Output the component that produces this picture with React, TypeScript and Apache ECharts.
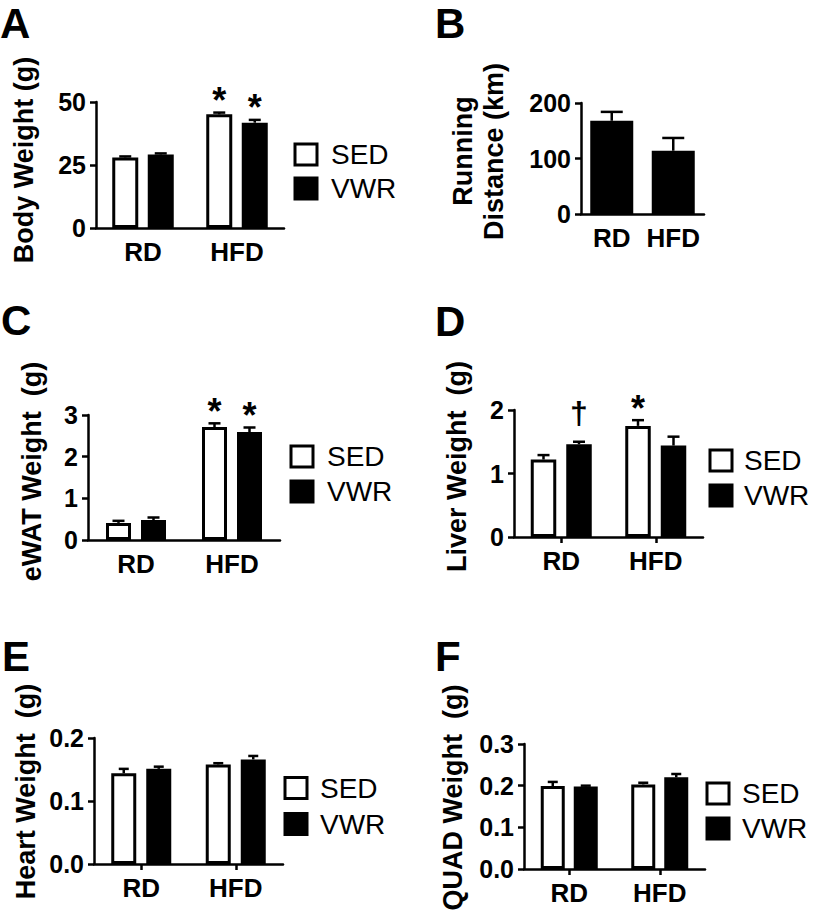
import React, { useEffect, useRef } from 'react';
import * as echarts from 'echarts';

const categories = ['RD', 'HFD'];

// A: Body weight (g)
const bodyTicks = [0, 25, 50];
const bodySED = [28.0, 45.1];
const bodySEDErr = [0.4, 0.7];
const bodyVWR = [29.2, 41.8];
const bodyVWRErr = [0.4, 1.1];
const bodySEDMarks = ['', '*'];
const bodyVWRMarks = ['', '*'];

// B: Running distance (km)
const runTicks = [0, 100, 200];
const runDistance = [168, 114];
const runDistanceErr = [16, 23];

// C: eWAT weight (g)
const ewatTicks = [0, 1, 2, 3];
const ewatSED = [0.41, 2.71];
const ewatSEDErr = [0.05, 0.09];
const ewatVWR = [0.48, 2.59];
const ewatVWRErr = [0.06, 0.11];
const ewatSEDMarks = ['', '*'];
const ewatVWRMarks = ['', '*'];

// D: Liver weight (g)
const liverTicks = [0, 1, 2];
const liverSED = [1.22, 1.75];
const liverSEDErr = [0.07, 0.09];
const liverVWR = [1.46, 1.44];
const liverVWRErr = [0.04, 0.14];
const liverSEDMarks = ['', '*'];
const liverVWRMarks = ['†', ''];

// E: Heart weight (g)
const heartTicks = [0, 0.1, 0.2];
const heartSED = [0.144, 0.158];
const heartSEDErr = [0.007, 0.002];
const heartVWR = [0.151, 0.166];
const heartVWRErr = [0.0035, 0.0055];

// F: QUAD weight (g)
const quadTicks = [0, 0.1, 0.2, 0.3];
const quadSED = [0.199, 0.203];
const quadSEDErr = [0.01, 0.004];
const quadVWR = [0.198, 0.22];
const quadVWRErr = [0.002, 0.008];

const FONT = '"Liberation Sans", Arial, Helvetica, sans-serif';

type Group = { name: string; values: number[]; errs: number[]; marks?: string[]; fill: string };
type Panel = {
  grid: { left: number; top: number; width: number; height: number };
  ticks: number[];
  decimals: number;
  xTicks: boolean;
  barW: number;
  dist: number;
  cap: number;
  groups: Group[];
  legend?: { left: number; top: number; gap: number; pad: number };
};

const panels: Panel[] = [
  {
    grid: { left: 96, top: 102, width: 188, height: 126 },
    ticks: bodyTicks, decimals: 0, xTicks: false, barW: 26, dist: 35.5, cap: 12,
    groups: [
      { name: 'SED', values: bodySED, errs: bodySEDErr, marks: bodySEDMarks, fill: '#fff' },
      { name: 'VWR', values: bodyVWR, errs: bodyVWRErr, marks: bodyVWRMarks, fill: '#000' },
    ],
    legend: { left: 293.5, top: 140.5, gap: 6, pad: 9 },
  },
  {
    grid: { left: 581, top: 103, width: 123, height: 111 },
    ticks: runTicks, decimals: 0, xTicks: false, barW: 43, dist: 0, cap: 22,
    groups: [{ name: 'Running Distance', values: runDistance, errs: runDistanceErr, fill: '#000' }],
  },
  {
    grid: { left: 88, top: 415, width: 192, height: 125 },
    ticks: ewatTicks, decimals: 0, xTicks: false, barW: 25, dist: 35, cap: 12,
    groups: [
      { name: 'SED', values: ewatSED, errs: ewatSEDErr, marks: ewatSEDMarks, fill: '#fff' },
      { name: 'VWR', values: ewatVWR, errs: ewatVWRErr, marks: ewatVWRMarks, fill: '#000' },
    ],
    legend: { left: 289.5, top: 442.5, gap: 7, pad: 9 },
  },
  {
    grid: { left: 514, top: 410, width: 189, height: 127 },
    ticks: liverTicks, decimals: 0, xTicks: true, barW: 25.5, dist: 35.5, cap: 12,
    groups: [
      { name: 'SED', values: liverSED, errs: liverSEDErr, marks: liverSEDMarks, fill: '#fff' },
      { name: 'VWR', values: liverVWR, errs: liverVWRErr, marks: liverVWRMarks, fill: '#000' },
    ],
    legend: { left: 708.5, top: 446.5, gap: 7, pad: 7 },
  },
  {
    grid: { left: 94, top: 738, width: 189, height: 126 },
    ticks: heartTicks, decimals: 1, xTicks: true, barW: 25, dist: 35, cap: 10,
    groups: [
      { name: 'SED', values: heartSED, errs: heartSEDErr, fill: '#fff' },
      { name: 'VWR', values: heartVWR, errs: heartVWRErr, fill: '#000' },
    ],
    legend: { left: 283.5, top: 774, gap: 8, pad: 8 },
  },
  {
    grid: { left: 524, top: 744, width: 181, height: 125 },
    ticks: quadTicks, decimals: 1, xTicks: true, barW: 24, dist: 33, cap: 10,
    groups: [
      { name: 'SED', values: quadSED, errs: quadSEDErr, fill: '#fff' },
      { name: 'VWR', values: quadVWR, errs: quadVWRErr, fill: '#000' },
    ],
    legend: { left: 705.5, top: 779.5, gap: 7, pad: 8 },
  },
];

const letters = [
  { text: 'A', x: 0, y: 23 },
  { text: 'B', x: 435, y: 23 },
  { text: 'C', x: 1, y: 320 },
  { text: 'D', x: 435, y: 321 },
  { text: 'E', x: 2, y: 656 },
  { text: 'F', x: 435, y: 656 },
];

const yTitles = [
  { text: 'Body Weight (g)', x: 24, y: 160 },
  { text: 'Running', x: 463, y: 151 },
  { text: 'Distance (km)', x: 494, y: 151.5 },
  { text: 'eWAT Weight  (g)', x: 32, y: 471.5 },
  { text: 'Liver Weight  (g)', x: 457, y: 466.5 },
  { text: 'Heart Weight  (g)', x: 25.5, y: 791.5 },
  { text: 'QUAD Weight  (g)', x: 453, y: 797.5 },
];

function buildOption() {
  const grid: any[] = [];
  const xAxis: any[] = [];
  const yAxis: any[] = [];
  const series: any[] = [];
  const legend: any[] = [];

  panels.forEach((p, i) => {
    grid.push({ ...p.grid });
    xAxis.push({
      type: 'category',
      gridIndex: i,
      data: categories,
      axisLine: { lineStyle: { color: '#000', width: 2.5 } },
      axisTick: { show: p.xTicks, alignWithLabel: true, length: 6, lineStyle: { color: '#000', width: 2.5 } },
      axisLabel: { color: '#000', fontSize: 26, fontWeight: 'bold', fontFamily: FONT, margin: 11, interval: 0 },
    });
    const t = p.ticks;
    yAxis.push({
      type: 'value',
      gridIndex: i,
      min: t[0],
      max: t[t.length - 1],
      interval: t[1] - t[0],
      splitLine: { show: false },
      axisLine: { show: true, lineStyle: { color: '#000', width: 2.5 } },
      axisTick: { show: true, length: 6, lineStyle: { color: '#000', width: 2.5 } },
      axisLabel: {
        color: '#000', fontSize: 25, fontWeight: 'bold', fontFamily: FONT, margin: 10,
        formatter: (v: number) => v.toFixed(p.decimals),
      },
    });
    const n = p.groups.length;
    p.groups.forEach((g, gi) => {
      series.push({
        type: 'bar',
        name: g.name,
        xAxisIndex: i,
        yAxisIndex: i,
        data: g.values,
        barWidth: p.barW,
        barGap: n > 1 ? `${((p.dist / p.barW) - 1) * 100}%` : '0%',
        itemStyle: { color: g.fill, borderColor: '#000', borderWidth: 3 },
        z: 2,
      });
      const offset = n > 1 ? (gi === 0 ? -p.dist / 2 : p.dist / 2) : 0;
      const marks = g.marks || [];
      series.push({
        type: 'custom',
        name: g.name + ' error',
        xAxisIndex: i,
        yAxisIndex: i,
        z: 3,
        data: g.values.map((v, k) => [k, v, g.errs[k]]),
        renderItem: (params: any, api: any) => {
          const ci = api.value(0);
          const m = api.value(1);
          const e = api.value(2);
          const base = api.coord([ci, m]);
          const top = api.coord([ci, m + e]);
          const cx = base[0] + offset;
          const children: any[] = [
            { type: 'line', shape: { x1: cx, y1: base[1], x2: cx, y2: top[1] }, style: { stroke: '#000', lineWidth: 2.5 } },
            { type: 'line', shape: { x1: cx - p.cap / 2, y1: top[1], x2: cx + p.cap / 2, y2: top[1] }, style: { stroke: '#000', lineWidth: 2.5 } },
          ];
          const mark = marks[params.dataIndex];
          if (mark) {
            children.push({
              type: 'text',
              style: {
                text: mark,
                x: cx,
                y: top[1] - (mark === '*' ? 12 : 29),
                align: 'center',
                verticalAlign: 'middle',
                font: `bold ${mark === '*' ? 36 : 32}px ${FONT}`,
                fill: '#000',
              },
            });
          }
          return { type: 'group', children };
        },
      });
    });
    if (p.legend) {
      const pad = p.legend.pad;
      legend.push({
        orient: 'vertical',
        left: p.legend.left,
        top: p.legend.top,
        itemWidth: 22,
        itemHeight: 21,
        itemGap: p.legend.gap,
        padding: 0,
        icon: 'rect',
        selectedMode: false,
        data: [
          { name: 'SED', itemStyle: { color: '#fff', borderColor: '#000', borderWidth: 3 } },
          { name: 'VWR', itemStyle: { color: '#000', borderColor: '#000', borderWidth: 3 } },
        ],
        formatter: (name: string) => `{t|${name}}`,
        textStyle: {
          fontSize: 28, fontFamily: FONT, color: '#000', lineHeight: 28,
          rich: { t: { fontSize: 28, fontFamily: FONT, color: '#000', lineHeight: 28, padding: [0, 0, 0, pad] } },
        },
      });
    }
  });

  const graphic: any[] = [];
  letters.forEach((l) => {
    graphic.push({
      type: 'text',
      x: l.x,
      y: l.y,
      style: { text: l.text, font: `bold 42px ${FONT}`, fill: '#000', align: 'left', verticalAlign: 'middle' },
    });
  });
  yTitles.forEach((t) => {
    graphic.push({
      type: 'text',
      x: t.x,
      y: t.y,
      rotation: Math.PI / 2,
      style: { text: t.text, font: `bold 27px ${FONT}`, fill: '#000', align: 'center', verticalAlign: 'middle' },
    });
  });

  return {
    animation: false,
    backgroundColor: '#fff',
    grid,
    xAxis,
    yAxis,
    series,
    legend,
    graphic,
  };
}

export default function App() {
  const ref = useRef<HTMLDivElement>(null);
  useEffect(() => {
    if (!ref.current) return;
    const chart = echarts.init(ref.current, undefined, { renderer: 'svg' });
    chart.setOption(buildOption() as any);
    return () => chart.dispose();
  }, []);
  return (
    <div
      ref={ref}
      style={{ position: 'absolute', left: 0, top: 0, width: 815, height: 913, background: '#fff' }}
    />
  );
}
